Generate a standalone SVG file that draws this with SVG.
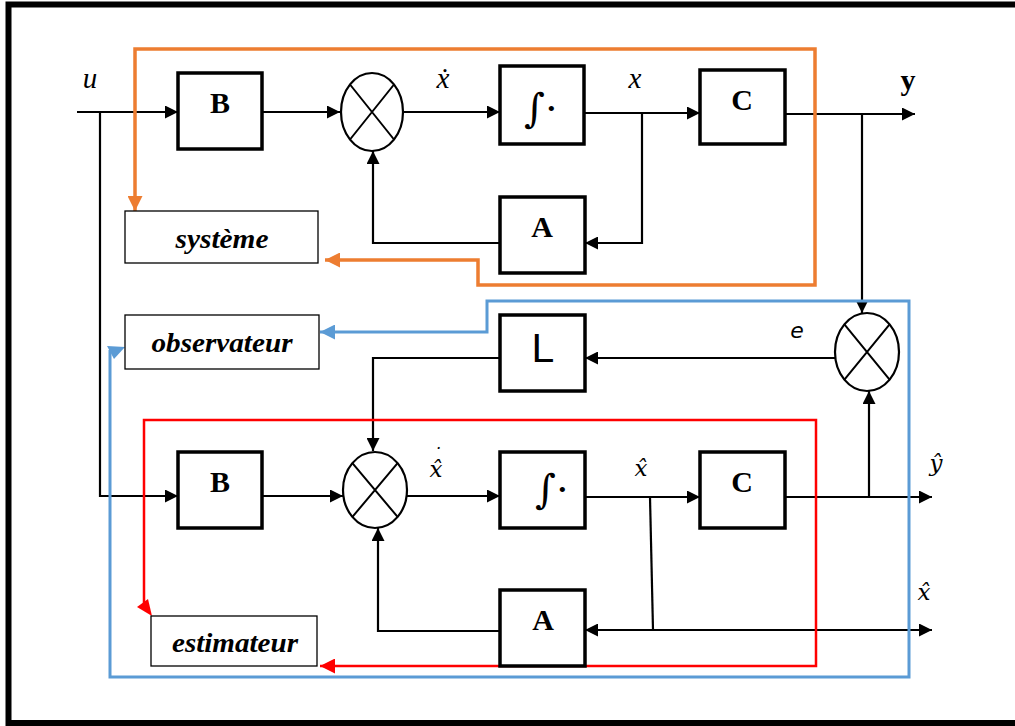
<svg xmlns="http://www.w3.org/2000/svg" width="1015" height="726" viewBox="0 0 1015 726">
<style>
.blk{fill:#fff;stroke:#000;stroke-width:3.5}
.lbl{fill:#fff;stroke:#000;stroke-width:1.3}
.sum{fill:#fff;stroke:#000;stroke-width:2.2}
.x{stroke:#000;stroke-width:2}
.c{fill:none;stroke:#000;stroke-width:2.2}
.bt{font-family:"Liberation Serif",serif;font-weight:bold;font-size:30px;text-anchor:middle}
.it{font-family:"Liberation Serif",serif;font-style:italic;font-size:29px;text-anchor:middle}
.ht{font-family:"DejaVu Serif",serif;font-style:italic;font-size:23px;text-anchor:middle}
.bi{font-family:"Liberation Serif",serif;font-style:italic;font-weight:bold;font-size:27px;text-anchor:middle}
.int{font-family:"DejaVu Serif",serif;font-size:40px;text-anchor:middle}
</style>
<defs>
<marker id="ah" viewBox="0 0 10 10" refX="10" refY="5" markerWidth="14" markerHeight="13" markerUnits="userSpaceOnUse" orient="auto-start-reverse"><path d="M0,0 L10,5 L0,10 z" fill="#000"/></marker>
<marker id="ao" viewBox="0 0 10 10" refX="10" refY="5" markerWidth="15" markerHeight="15" markerUnits="userSpaceOnUse" orient="auto-start-reverse"><path d="M0,0 L10,5 L0,10 z" fill="#ED7D31"/></marker>
<marker id="ab" viewBox="0 0 10 10" refX="10" refY="5" markerWidth="15" markerHeight="15" markerUnits="userSpaceOnUse" orient="auto"><path d="M0,0 L10,5 L0,10 z" fill="#5B9BD5"/></marker>
<marker id="ar" viewBox="0 0 10 10" refX="10" refY="5" markerWidth="15" markerHeight="15" markerUnits="userSpaceOnUse" orient="auto"><path d="M0,0 L10,5 L0,10 z" fill="#FF0000"/></marker>
</defs>
<rect width="1015" height="726" fill="#fff"/>
<path d="M1020,4.5 H8.5 V723 H1020" fill="none" stroke="#000" stroke-width="6"/>

<g id="connectors">
<path class="c" d="M77,112 H178" marker-end="url(#ah)"/>
<path class="c" d="M100,112 V496 H178" marker-end="url(#ah)"/>
<path class="c" d="M262,112 H340" marker-end="url(#ah)"/>
<path class="c" d="M403,112 H500" marker-end="url(#ah)"/>
<path class="c" d="M584,113 H700" marker-end="url(#ah)"/>
<path class="c" d="M642,113 V243 H585" marker-end="url(#ah)"/>
<path class="c" d="M500,243 H373 V151" marker-end="url(#ah)"/>
<path class="c" d="M785,114 H915" marker-end="url(#ah)"/>
<path class="c" d="M862,114 V313" marker-end="url(#ah)"/>
<path class="c" d="M835,358 H585" marker-end="url(#ah)"/>
<path class="c" d="M500,358 H373 V451" marker-end="url(#ah)"/>
<path class="c" d="M262,496 H343" marker-end="url(#ah)"/>
<path class="c" d="M407,496 H500" marker-end="url(#ah)"/>
<path class="c" d="M585,497 H700" marker-end="url(#ah)"/>
<path class="c" d="M785,497 H932" marker-end="url(#ah)"/>
<path class="c" d="M869,497 V391" marker-end="url(#ah)"/>
<path class="c" d="M650,497 L653,630"/>
<path class="c" d="M585,630 H932" marker-start="url(#ah)" marker-end="url(#ah)"/>
<path class="c" d="M500,631 H378 V528" marker-end="url(#ah)"/>
<path d="M135,211 V49 H815 V285 H478 V260 H325" fill="none" stroke="#ED7D31" stroke-width="3.5" marker-start="url(#ao)" marker-end="url(#ao)"/>
<path d="M110,350 V677 H909 V301 H487 V332 H320" fill="none" stroke="#5B9BD5" stroke-width="3" marker-end="url(#ab)"/>
<polygon points="107,346 125,347 114,359" fill="#5B9BD5"/>
<path d="M144,604 V420 H816 V666 H320" fill="none" stroke="#FF0000" stroke-width="2.5" marker-end="url(#ar)"/>
<polygon points="137,607 148,599 152,616" fill="#FF0000"/>
</g>

<g id="B1"><rect class="blk" x="178" y="73" width="84" height="76"/><text class="bt" x="220" y="113">B</text></g>
<g id="sum1"><ellipse class="sum" cx="372" cy="112" rx="31" ry="39"/><path class="x" d="M350,84.5 L394,139.5 M394,84.5 L350,139.5"/></g>
<g id="I1"><rect class="blk" x="500" y="66" width="84" height="78"/><text class="int" x="541" y="122">∫·</text></g>
<g id="C1"><rect class="blk" x="700" y="70" width="85" height="74"/><text class="bt" x="742" y="110">C</text></g>
<g id="A1"><rect class="blk" x="500" y="197" width="85" height="76"/><text class="bt" x="542" y="237">A</text></g>
<g id="systeme"><rect class="lbl" x="125" y="211" width="193" height="52"/><text class="bi" x="222" y="248" textLength="93" lengthAdjust="spacingAndGlyphs">système</text></g>
<g id="observateur"><rect class="lbl" x="125" y="315" width="194" height="54"/><text class="bi" x="222" y="352" textLength="141" lengthAdjust="spacingAndGlyphs">observateur</text></g>
<g id="L"><rect class="blk" x="500" y="315" width="85" height="76"/><text x="543" y="362" font-family="'Liberation Sans',sans-serif" font-size="41" text-anchor="middle">L</text></g>
<g id="sum2"><ellipse class="sum" cx="867" cy="352" rx="32" ry="39"/><path class="x" d="M844.4,324.4 L889.6,379.6 M889.6,324.4 L844.4,379.6"/></g>
<g id="estimateur"><rect class="lbl" x="151" y="616" width="166" height="50"/><text class="bi" x="235" y="652" textLength="126" lengthAdjust="spacingAndGlyphs">estimateur</text></g>
<g id="B2"><rect class="blk" x="178" y="452" width="84" height="76"/><text class="bt" x="220" y="492">B</text></g>
<g id="sum3"><ellipse class="sum" cx="375" cy="490" rx="32" ry="38"/><path class="x" d="M352.4,463.1 L397.6,516.9 M397.6,463.1 L352.4,516.9"/></g>
<g id="I2"><rect class="blk" x="500" y="452" width="85" height="76"/><text class="int" x="552" y="503" font-size="32">∫·</text></g>
<g id="C2"><rect class="blk" x="700" y="452" width="85" height="76"/><text class="bt" x="742" y="492">C</text></g>
<g id="A2"><rect class="blk" x="500" y="590" width="85" height="76"/><text class="bt" x="543" y="630">A</text></g>

<g id="labels">
<text class="it" x="90" y="88">u</text>
<text class="it" x="443" y="88">ẋ</text>
<text class="it" x="635" y="88">x</text>
<text x="908" y="90" font-family="'Liberation Serif',serif" font-weight="bold" font-size="30" text-anchor="middle">y</text>
<text x="797" y="338" font-family="'DejaVu Sans',sans-serif" font-style="italic" font-size="22" text-anchor="middle">e</text>
<text class="ht" x="436" y="477" text-anchor="start">x&#x302;<tspan font-size="18" dx="-10" dy="-16">˙</tspan></text>
<text class="ht" x="641" y="476">x&#x302;</text>
<text class="ht" x="936" y="471">y&#x302;</text>
<text class="ht" x="924" y="600">x&#x302;</text>
</g>
</svg>
